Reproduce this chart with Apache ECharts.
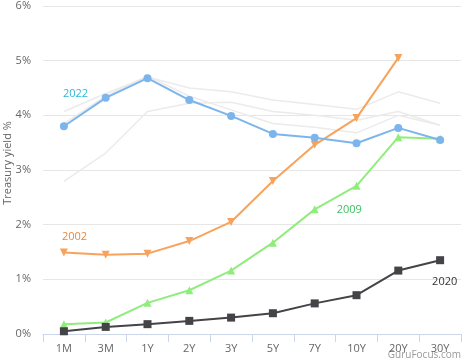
<!DOCTYPE html>
<html><head><meta charset="utf-8">
<script src="https://cdn.jsdelivr.net/npm/echarts@6/dist/echarts.min.js"></script>
<style>html,body{margin:0;padding:0;background:#fff}#c{width:474px;height:364px}</style>
</head><body><div id="c"></div>
<script>
const categories = ['1M','3M','1Y','2Y','3Y','5Y','7Y','10Y','20Y','30Y'];
const y2022 = [3.80,4.32,4.68,4.28,3.99,3.66,3.59,3.49,3.77,3.55];
const y2002 = [1.49,1.45,1.47,1.70,2.05,2.80,3.46,3.95,5.05,null];
const y2009 = [0.18,0.21,0.57,0.80,1.16,1.67,2.28,2.71,3.60,3.57];
const y2020 = [0.05,0.13,0.18,0.24,0.30,0.38,0.56,0.71,1.16,1.35];
const greyA = [4.07,4.40,4.70,4.50,4.43,4.28,4.20,4.11,4.43,4.22];
const greyB = [2.79,3.31,4.07,4.22,4.24,4.07,4.00,3.91,4.07,3.82];
const greyC = [3.85,4.35,4.72,4.35,4.10,3.85,3.78,3.68,4.00,3.82];
const yTicks = [0,1,2,3,4,5,6];

const font = 'Open Sans, Lato, sans-serif';
function lab(arr, idx, text, color, pos) {
  return arr.map((v, i) => i === idx ? {value: v, label: {show: true, formatter: text, color: color, fontSize: 11, fontFamily: font, position: pos}} : v);
}
function grey(d) {
  return {type:'line', data:d, symbol:'none', silent:true, z:1,
    lineStyle:{color:'#ebebeb', width:1.5}};
}
const chart = echarts.init(document.getElementById('c'), null, {renderer:'canvas'});
chart.setOption({
  animation:false,
  grid:{left:43, right:13, top:6, bottom:30, containLabel:false, outerBoundsMode:'none'},
  xAxis:{type:'category', data:categories, boundaryGap:true,
    axisLine:{lineStyle:{color:'#ccd6eb'}},
    axisTick:{show:true, length:8, lineStyle:{color:'#ccd6eb'}},
    axisLabel:{color:'#666', fontSize:11, fontFamily:font, margin:9}},
  yAxis:{type:'value', min:yTicks[0], max:yTicks[yTicks.length-1], interval:1,
    axisLabel:{formatter:v=>v+'%', color:'#666', fontSize:11, fontFamily:font, margin:12},
    splitLine:{lineStyle:{color:'#e6e6e6'}},
    axisLine:{show:false}, axisTick:{show:false}},
  series:[
    grey(greyA), grey(greyB), grey(greyC),
    {type:'line', name:'2002', data:lab(y2002,0,'2002','#e8883a',[2,-17]),
      symbol:'triangle', symbolRotate:180, symbolSize:8, z:5, connectNulls:false,
      lineStyle:{color:'#f7a35c', width:2}, itemStyle:{color:'#f7a35c'}},
    {type:'line', name:'2009', data:lab(y2009,6,'2009','#3cc063',[26,-1]),
      symbol:'triangle', symbolSize:8, z:5,
      lineStyle:{color:'#90ed7d', width:2}, itemStyle:{color:'#90ed7d'}},
    {type:'line', name:'2020', data:lab(y2020,9,'2020','#333',[-4,20]),
      symbol:'rect', symbolSize:8, z:5,
      lineStyle:{color:'#434348', width:2}, itemStyle:{color:'#434348'}},
    {type:'line', name:'2022', data:lab(y2022,0,'2022','#2fb6d6',[3,-34]),
      symbol:'circle', symbolSize:8, z:6,
      lineStyle:{color:'#7cb5ec', width:2}, itemStyle:{color:'#7cb5ec'}}
  ],
  graphic:[
    {type:'text', x:8, y:163, rotation:Math.PI/2,
      style:{text:'Treasury yield %', fill:'#666', fontSize:11, fontFamily:font, align:'center', verticalAlign:'middle'}},
    {type:'text', right:13, top:350, style:{text:'GuruFocus.com', fill:'#999', fontSize:10, fontFamily:font}}]
});
</script></body></html>
